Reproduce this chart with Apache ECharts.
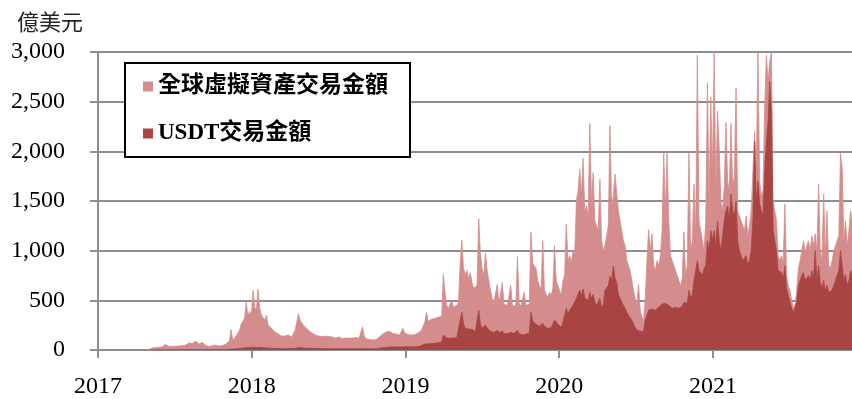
<!DOCTYPE html>
<html><head><meta charset="utf-8">
<script src="https://cdn.jsdelivr.net/npm/echarts@6/dist/echarts.min.js"></script>
<style>html,body{margin:0;padding:0;background:#fff}#c{width:852px;height:399px}</style>
</head><body><div id="c"></div>
<script>
const seriesNames = ['全球虛擬資產交易金額', 'USDT交易金額'];
const yAxisTitle = '億美元';
const startDate = [2017, 5, 1];   // first sample (year, month, day)
const stepDays = 4;               // sampling step of the arrays below
const xMin = 2017, xMax = 2021.905;
const yMin = 0, yMax = 3000, yStep = 500;

// 全球虛擬資產交易金額 (億美元), one value every 4 days from 2017-05-01
const totalVolume = [
  0, 15, 20, 25, 22, 30, 28, 35,
  30, 45, 55, 40, 38, 42, 35, 40,
  38, 45, 40, 35, 42, 40, 50, 55,
  70, 85, 65, 75, 90, 70, 60, 80,
  75, 60, 45, 40, 35, 40, 45, 42,
  48, 45, 40, 50, 45, 55, 60, 70,
  90, 206, 100, 120, 140, 170, 200, 260,
  280, 320, 480, 340, 390, 350, 600, 430,
  400, 612, 420, 350, 330, 300, 350, 250,
  240, 220, 200, 180, 170, 160, 150, 140,
  150, 140, 135, 150, 145, 130, 140, 200,
  280, 365, 300, 270, 250, 230, 210, 200,
  190, 170, 160, 150, 145, 140, 150, 135,
  130, 140, 125, 135, 120, 130, 125, 120,
  125, 130, 120, 115, 125, 120, 130, 120,
  115, 120, 110, 125, 115, 120, 130, 233,
  140, 115, 110, 105, 110, 100, 110, 105,
  110, 130, 150, 160, 145, 180, 170, 190,
  175, 165, 185, 160, 170, 150, 165, 220,
  170, 160, 155, 165, 150, 160, 155, 165,
  170, 180, 200, 240, 280, 380, 290, 300,
  310, 330, 320, 340, 330, 350, 340, 760,
  580, 450, 420, 410, 500, 430, 440, 450,
  480, 875, 1105, 820, 760, 800, 720, 780,
  680, 620, 600, 650, 1320, 975, 820, 750,
  975, 800, 700, 600, 520, 480, 500, 660,
  470, 450, 680, 460, 440, 450, 430, 650,
  440, 460, 450, 940, 470, 440, 430, 580,
  450, 430, 460, 1190, 875, 860, 820, 700,
  650, 600, 1100, 610, 560, 530, 580, 550,
  620, 1050, 700, 650, 600, 550, 700, 750,
  1270, 900, 950, 880, 1000, 950, 1500, 1600,
  1820, 1550, 1930, 1400, 1450, 1350, 2280, 1500,
  1785, 1300, 1250, 1200, 1720, 1100, 1000, 1050,
  1150, 1250, 2260, 1450, 1550, 1770, 1750, 1400,
  1300, 1200, 1100, 1050, 900, 850, 800, 700,
  600, 520, 450, 660, 400, 330, 300, 520,
  900, 1210, 1000, 1170, 850, 800, 900, 850,
  950, 1200, 1980, 1400, 1980, 1300, 950, 900,
  850, 800, 780, 700, 650, 720, 1190, 750,
  850, 1980, 1000, 1100, 1670, 1150, 2970, 1300,
  1200, 1100, 1000, 1300, 2690, 1500, 2550, 1800,
  3000, 1600, 2405, 2030, 1500, 1400, 1650, 2290,
  1700, 1600, 2280, 1650, 1750, 2640, 1400, 1350,
  1300, 1250, 1200, 1350, 1150, 1250, 1400, 1800,
  2200, 1800, 2990, 1700, 1550, 1600, 2450, 2970,
  2700, 2900, 3000, 1500, 1400, 1300, 950, 900,
  950, 880, 1470, 750, 650, 600, 500, 420,
  450, 600, 820, 900, 1000, 1100, 980, 1050,
  1100, 1000, 1150, 1050, 1170, 1000, 1670, 1000,
  900, 1570, 950, 1400, 850, 820, 900, 1000,
  1050, 1100, 1150, 1980, 1830, 1100, 1300, 1050,
  1200, 1400, 1300, 1250
];

// USDT交易金額 (億美元), same sampling
const usdtVolume = [
  0, 0, 1, 1, 1, 1, 2, 2,
  2, 2, 3, 2, 2, 3, 2, 3,
  3, 3, 3, 3, 3, 4, 4, 4,
  4, 5, 4, 5, 5, 4, 5, 5,
  5, 4, 4, 4, 5, 4, 5, 5,
  5, 5, 5, 6, 6, 6, 7, 8,
  8, 10, 9, 10, 12, 14, 16, 18,
  18, 20, 25, 22, 24, 22, 30, 26,
  25, 35, 28, 24, 22, 20, 22, 18,
  18, 17, 16, 15, 15, 15, 14, 14,
  14, 14, 13, 14, 14, 13, 14, 16,
  20, 28, 25, 22, 20, 20, 18, 18,
  18, 17, 16, 16, 15, 15, 15, 14,
  14, 14, 13, 14, 13, 13, 13, 12,
  13, 13, 12, 12, 13, 12, 13, 12,
  12, 12, 12, 13, 12, 13, 14, 20,
  14, 12, 12, 12, 12, 11, 12, 12,
  13, 16, 22, 25, 24, 30, 28, 32,
  30, 28, 32, 30, 30, 28, 30, 35,
  32, 30, 30, 33, 32, 34, 33, 35,
  35, 40, 45, 55, 60, 75, 60, 65,
  65, 70, 68, 75, 72, 80, 78, 150,
  130, 120, 115, 118, 125, 120, 122, 125,
  140, 300, 380, 260, 220, 240, 210, 230,
  210, 190, 180, 200, 400, 260, 220, 230,
  250, 220, 200, 190, 180, 175, 180, 200,
  175, 170, 190, 165, 160, 165, 160, 175,
  160, 165, 160, 200, 165, 155, 150, 165,
  160, 150, 170, 380, 290, 270, 260, 240,
  240, 230, 270, 240, 220, 215, 230, 225,
  260, 300, 280, 260, 240, 230, 280, 300,
  420, 360, 400, 380, 450, 430, 520, 560,
  600, 550, 615, 520, 540, 500, 580, 520,
  560, 480, 450, 430, 520, 420, 450, 600,
  620, 650, 740, 700, 845, 720, 680, 560,
  520, 480, 450, 420, 380, 350, 330, 300,
  260, 230, 200, 220, 190, 180, 185, 300,
  350, 400, 380, 410, 390, 400, 420, 430,
  430, 460, 480, 470, 480, 450, 430, 420,
  420, 430, 410, 420, 430, 440, 480, 460,
  470, 600, 520, 560, 700, 720, 900, 800,
  780, 750, 820, 850, 1100, 1000, 1200, 1100,
  1200, 1050, 1300, 1100, 1000, 1150, 1300, 1400,
  1450, 1300, 1570, 1400, 1350, 1500, 1100, 1000,
  950, 900, 880, 950, 850, 900, 1000, 1300,
  2100, 1500, 1700, 1470, 1400, 1350, 1800, 2100,
  2300, 2700, 2400, 1200, 1100, 1000, 800, 780,
  780, 720, 850, 620, 550, 480, 420, 380,
  400, 480, 650, 700, 750, 780, 700, 720,
  750, 700, 800, 720, 1000, 700, 850, 680,
  620, 700, 600, 650, 580, 560, 600, 650,
  700, 750, 800, 1000, 850, 700, 760, 650,
  700, 800, 750, 700
];

// convert sample index -> fractional year for the value x-axis
const t0 = Date.UTC(startDate[0], startDate[1] - 1, startDate[2]);
function yearOf(i) {
  const t = t0 + i * stepDays * 86400000;
  const y = new Date(t).getUTCFullYear();
  const a = Date.UTC(y, 0, 1), b = Date.UTC(y + 1, 0, 1);
  return y + (t - a) / (b - a);
}
const pairs = arr => arr.map((v, i) => [yearOf(i), v]);

const LIGHT = '#D48D8C';
const DARK = '#A84543';
const GRID = '#8E8E8E';
const serif = "'Liberation Serif', 'Times New Roman', serif";
const cjk = "'Liberation Serif', 'Noto Sans CJK TC', serif";

const chart = echarts.init(document.getElementById('c'), null, { renderer: 'canvas' });
chart.setOption({
  animation: false,
  backgroundColor: '#fff',
  grid: { left: 98, right: 0, top: 52, bottom: 44, containLabel: false },
  graphic: [{
    type: 'text', left: 17, top: 11,
    style: { text: yAxisTitle, font: "22px 'Noto Sans CJK TC'", fill: '#222' }
  }],
  legend: {
    orient: 'vertical', left: 125, top: 63,
    padding: [12, 22, 12, 18],
    itemGap: 24, itemWidth: 10, itemHeight: 10,
    borderColor: '#000', borderWidth: 2, backgroundColor: '#fff',
    icon: 'rect',
    textStyle: { fontFamily: cjk, fontSize: 23, fontWeight: 'bold', color: '#000' },
    data: seriesNames
  },
  xAxis: {
    type: 'value', min: xMin, max: xMax, interval: 1,
    axisLine: { show: true, lineStyle: { color: GRID, width: 2 } },
    axisTick: { show: true, length: 8, lineStyle: { color: GRID, width: 2 } },
    axisLabel: {
      margin: 25, showMaxLabel: false, color: '#000',
      fontFamily: serif, fontSize: 24,
      formatter: v => (Math.abs(v - Math.round(v)) < 1e-6 ? String(Math.round(v)) : '')
    },
    splitLine: { show: false }
  },
  yAxis: {
    type: 'value', min: yMin, max: yMax, interval: yStep,
    axisLine: { show: true, lineStyle: { color: GRID, width: 2 } },
    axisTick: { show: true, length: 8, lineStyle: { color: GRID, width: 2 } },
    axisLabel: {
      margin: 33, color: '#000', fontFamily: serif, fontSize: 24,
      formatter: v => v.toLocaleString('en-US')
    },
    splitLine: { show: true, lineStyle: { color: GRID, width: 2 } }
  },
  series: [
    {
      name: seriesNames[0], type: 'line', data: pairs(totalVolume),
      showSymbol: false, symbol: 'none', z: 2,
      itemStyle: { color: LIGHT },
      lineStyle: { color: LIGHT, width: 0.8 },
      areaStyle: { color: LIGHT, opacity: 1 }
    },
    {
      name: seriesNames[1], type: 'line', data: pairs(usdtVolume),
      showSymbol: false, symbol: 'none', z: 3,
      itemStyle: { color: DARK },
      lineStyle: { color: DARK, width: 0.8 },
      areaStyle: { color: DARK, opacity: 1 }
    }
  ]
});
</script>
</body></html>
